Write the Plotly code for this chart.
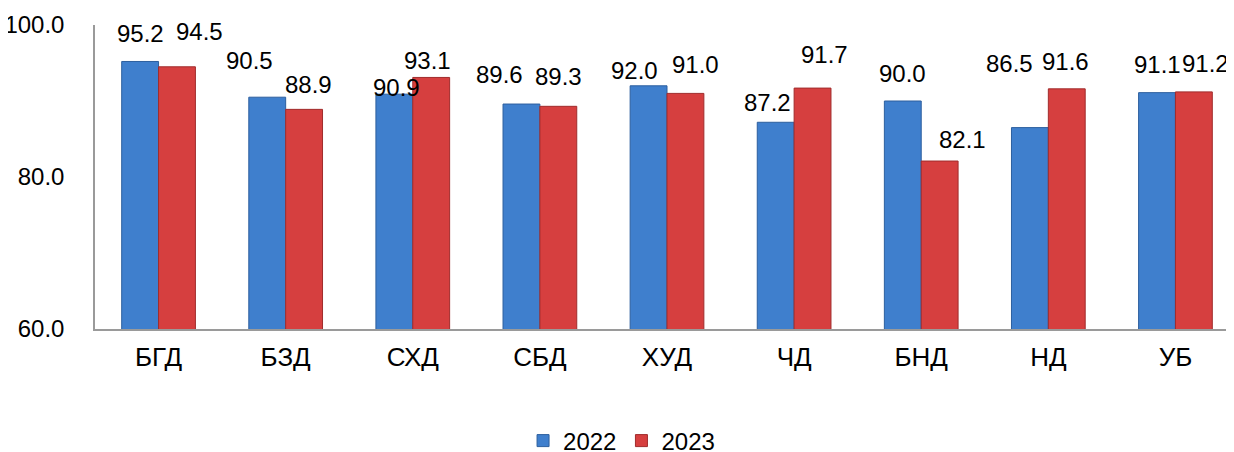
import plotly.graph_objects as go

categories = ["БГД", "БЗД", "СХД", "СБД", "ХУД", "ЧД", "БНД", "НД", "УБ"]
values_2022 = [95.2, 90.5, 90.9, 89.6, 92.0, 87.2, 90.0, 86.5, 91.1]
values_2023 = [94.5, 88.9, 93.1, 89.3, 91.0, 91.7, 82.1, 91.6, 91.2]
y_ticks = [60, 80, 100]

# manual data-label nudges in the reference (pixels): horizontal shift, gap above bar
label_dx_2022 = [0, -18, 2, -22, -14, -8, 0, -20, 0]
label_gap_2022 = [15, 24, -6, 17, 3, 7, 15, 52, 16]
label_dx_2023 = [23, 4, -4, 0, 10, 12, 23, -1, 12]
label_gap_2023 = [23, 12, 4, 17, 16, 21, 9, 15, 16]

font = "Liberation Sans, Arial, sans-serif"
BARGAP = 0.42
half = (1 - BARGAP) / 4  # center offset of each bar within its group

fig = go.Figure()
fig.add_trace(go.Bar(
    name="2022", x=categories, y=values_2022,
    marker=dict(color="#3f7fcd", line=dict(color="#2d5f9e", width=1)),
))
fig.add_trace(go.Bar(
    name="2023", x=categories, y=values_2023,
    marker=dict(color="#d63f3f", line=dict(color="#a02c2c", width=1)),
))

for series, off, dxs, gaps in ((values_2022, -half, label_dx_2022, label_gap_2022),
                               (values_2023, half, label_dx_2023, label_gap_2023)):
    for i, v in enumerate(series):
        fig.add_annotation(x=i + off, y=v, xref="x", yref="y", text=f"{v:.1f}",
                           showarrow=False, yanchor="bottom", xanchor="center",
                           xshift=dxs[i], yshift=gaps[i] - 3,
                           font=dict(size=24, color="#000", family=font))

fig.update_layout(
    width=1242, height=460,
    margin=dict(l=87, r=11, t=17, b=139, autoexpand=False),
    paper_bgcolor="white", plot_bgcolor="white",
    barmode="group", bargap=BARGAP, bargroupgap=0,
    font=dict(family=font, size=24, color="#000"),
    showlegend=True,
    legend=dict(orientation="h", xref="container", yref="container",
                x=0.494, y=1 - 433 / 460, xanchor="center", yanchor="middle",
                font=dict(size=24), itemwidth=30),
)
fig.update_xaxes(range=[-0.5, 8.5], showline=True, linecolor="#9a9a9a", linewidth=1.5,
                 ticks="", showgrid=False, tickfont=dict(size=26), ticklabelstandoff=4,
                 automargin=False)
fig.update_yaxes(range=[60, 100], tickvals=y_ticks, ticktext=[f"{v:.1f}" for v in y_ticks],
                 showline=True, linecolor="#9a9a9a", linewidth=1.5, showgrid=False,
                 zeroline=False, ticks="", tickfont=dict(size=24), ticklabelstandoff=24,
                 automargin=False)

fig.write_html("out.html")
